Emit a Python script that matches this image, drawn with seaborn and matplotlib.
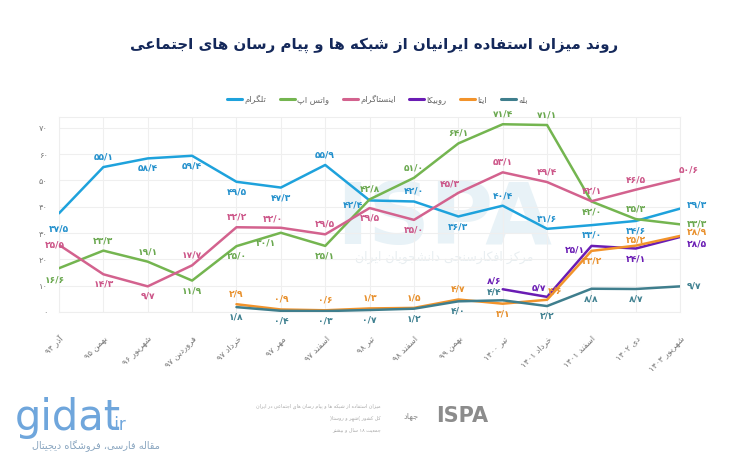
import re
import matplotlib
matplotlib.use('Agg')
from matplotlib import pyplot as plt
from matplotlib.lines import Line2D
import seaborn as sns
import pandas as pd
import numpy as np

# ---- data ----
dates = ['آذر 94', 'بهمن 95', 'شهریور 96', 'فروردین 97', 'خرداد 97', 'مهر 97', 'اسفند 97', 'تیر 98',
         'اسفند 98', 'بهمن 99', 'تیر 1400', 'خرداد 1401', 'اسفند 1401', 'دی 1402', 'شهریور 1403']
telegram = [37.5, 55.1, 58.4, 59.4, 49.5, 47.3, 55.9, 42.4, 42.0, 36.3, 40.4, 31.6, 33.0, 34.6, 39.3]
whatsapp = [16.6, 23.3, 19.1, 11.9, 25.0, 30.1, 25.1, 42.8, 51.0, 64.1, 71.4, 71.1, 42.0, 35.3, 33.3]
instagram = [25.5, 14.3, 9.7, 17.7, 32.2, 32.0, 29.5, 39.5, 35.0, 45.3, 53.1, 49.4, 42.1, 46.5, 50.6]
rubika = [None] * 10 + [8.6, 5.7, 25.1, 24.1, 28.5]
eitaa = [None] * 4 + [2.9, 0.9, 0.6, 1.3, 1.5, 4.7, 3.1, 4.6, 23.2, 25.2, 28.9]
bale = [None] * 4 + [1.8, 0.4, 0.3, 0.7, 1.2, 4.0, 4.4, 2.2, 8.8, 8.7, 9.7]
names = ['تلگرام', 'واتس اپ', 'اینستاگرام', 'روبیکا', 'ایتا', 'بله']
title = 'روند میزان استفاده ایرانیان از شبکه ها و پیام رسان های اجتماعی'

# ---- style ----
colors = ['#1ea2dc', '#74b550', '#d3628e', '#6a1cb4', '#f2932b', '#3f7e8d']
text_colors = ['#2390cc', '#6aa84f', '#cc5588', '#6a1cb4', '#e8902c', '#3f8090']
# label side per point: a=above b=below l=left r=right, al/ar/bl = diagonal
label_pos = [
    ['b2', 'a', 'b', 'b', 'b', 'b', 'a', 'l', 'a', 'b', 'a', 'a', 'b', 'b', 'ru'],
    ['bl', 'a', 'a', 'b', 'b', 'bl3', 'b', 'a', 'a', 'a', 'a', 'a', 'b', 'a', 'r'],
    ['c', 'b', 'b', 'a', 'a', 'al', 'a', 'b', 'b', 'al', 'a', 'a', 'a', 'a', 'ar'],
    [None] * 10 + ['al', 'al', 'l', 'b', 'rd'],
    [None] * 4 + ['a', 'a', 'a', 'a', 'a', 'a', 'b', 'ar', 'b', 'a1', 'ru'],
    [None] * 4 + ['b', 'b', 'b', 'b', 'b', 'b', 'al', 'b', 'b', 'b', 'r'],
]

# ---- simple persian shaping (matplotlib has no RTL layout) ----
_dual = {'ب': 0xFE8F, 'ت': 0xFE95, 'ث': 0xFE99, 'ج': 0xFE9D, 'ح': 0xFEA1, 'خ': 0xFEA5, 'س': 0xFEB1,
         'ش': 0xFEB5, 'ص': 0xFEB9, 'ض': 0xFEBD, 'ط': 0xFEC1, 'ظ': 0xFEC5, 'ع': 0xFEC9, 'غ': 0xFECD,
         'ف': 0xFED1, 'ق': 0xFED5, 'ل': 0xFEDD, 'م': 0xFEE1, 'ن': 0xFEE5, 'ه': 0xFEE9, 'ي': 0xFEF1,
         'پ': 0xFB56, 'چ': 0xFB7A, 'ک': 0xFB8E, 'گ': 0xFB92, 'ی': 0xFBFC}
_right = {'ا': 0xFE8D, 'آ': 0xFE81, 'د': 0xFEA9, 'ذ': 0xFEAB, 'ر': 0xFEAD, 'ز': 0xFEAF, 'و': 0xFEED,
          'ژ': 0xFB8A}
FA_DIGITS = str.maketrans('0123456789.', '۰۱۲۳۴۵۶۷۸۹/')


def fa(s):
    s = s.translate(FA_DIGITS)
    out = []
    for i, ch in enumerate(s):
        if ch not in _dual and ch not in _right:
            out.append(ch)
            continue
        prev = s[i - 1] if i > 0 else ''
        nxt = s[i + 1] if i + 1 < len(s) else ''
        p = prev in _dual
        n = ch in _dual and (nxt in _dual or nxt in _right)
        base = _dual.get(ch, _right.get(ch))
        k = 3 if (p and n) else 2 if n else 1 if p else 0
        out.append(chr(base + k))
    vis = ''.join(out)[::-1]
    return re.sub(r'[۰-۹/]+', lambda m: m.group()[::-1], vis)


sns.set_theme(style='white')
plt.rcParams['font.family'] = ['DejaVu Sans']

fig = plt.figure(figsize=(7.4, 4.62), dpi=100)
ax = fig.add_axes([0.0797, 0.325, 0.8395, 0.422])

x = np.arange(len(dates))
series = [telegram, whatsapp, instagram, rubika, eitaa, bale]
df = pd.DataFrame({'x': np.tile(x, 6),
                   'value': np.concatenate([np.array(s, dtype=float) for s in series]),
                   'app': np.repeat(names, len(dates))})

# faint watermark
ax.text(0.62, 0.47, 'ISPA', transform=ax.transAxes, fontsize=62, fontweight='bold',
        color='#e8f2f7', ha='center', va='center', zorder=0)
ax.text(0.62, 0.28, fa('مرکز افکارسنجی دانشجویان ایران'), transform=ax.transAxes, fontsize=9,
        color='#e8eef1', ha='center', va='center', zorder=0)

for k in [5, 4, 3, 2, 1, 0]:
    d = df[df['app'] == names[k]].dropna()
    sns.lineplot(data=d, x='x', y='value', ax=ax, color=colors[k], linewidth=1.8, zorder=3 + k,
                 legend=False)

offs = {'a': (0, 4, 'center', 'bottom'), 'a1': (0, 1, 'center', 'bottom'),
        'b': (0, -4, 'center', 'top'), 'b2': (0, -8, 'center', 'top'),
        'c': (-3, 0, 'center', 'center'),
        'l': (-5, -3, 'right', 'center'), 'r': (5, 0, 'left', 'center'),
        'ru': (5, 2.5, 'left', 'center'), 'rd': (5, -5, 'left', 'center'),
        'al': (-6, 3, 'center', 'bottom'),
        'bl': (-3, -5, 'center', 'top'), 'bl3': (-11, -4, 'center', 'top'),
        'ar': (6, 3, 'center', 'bottom')}
for k, s in enumerate(series):
    for i, v in enumerate(s):
        if v is None:
            continue
        dx, dy, ha, va = offs[label_pos[k][i]]
        ax.annotate(fa(f'{v:.1f}'), (x[i], v), xytext=(dx, dy), textcoords='offset points',
                    ha=ha, va=va, fontsize=6.6, fontweight='bold', color=text_colors[k], zorder=10)

ax.set_xlim(0, len(dates) - 1)
ax.set_ylim(0, 74.2)
ax.set_yticks(range(0, 71, 10))
ax.set_yticklabels([fa(str(t)) for t in range(0, 71, 10)], fontsize=6, color='#777777')
ax.set_xticks(x)
ax.set_xticklabels([fa(d) for d in dates], rotation=45, ha='right', rotation_mode='anchor',
                   fontsize=6, color='#777777')
ax.tick_params(axis='x', pad=16, length=0)
ax.tick_params(axis='y', pad=8, length=0)
ax.set_xlabel('')
ax.set_ylabel('')
ax.grid(True, color='#efefef', linewidth=0.8)
for sp in ax.spines.values():
    sp.set_color('#eeeeee')
    sp.set_linewidth(0.8)

# legend
handles = [Line2D([], [], color=colors[k], linewidth=2.2) for k in range(6)]
fig.legend(handles, [fa(n) for n in names], ncol=6, loc='center', bbox_to_anchor=(0.51, 0.785),
           frameon=False, fontsize=6, labelcolor='#666666', handlelength=1.8, handletextpad=0.3,
           columnspacing=1.6)

fig.text(0.505, 0.902, fa(title), ha='center', va='center', fontsize=10.8, fontweight='bold',
         color='#14285a')

# footer marks
fig.text(0.02, 0.095, 'gidat', fontsize=30, color='#6fa6dc', ha='left', va='center')
fig.text(0.148, 0.08, '.ir', fontsize=12, color='#6fa6dc', ha='left', va='center')
fig.text(0.13, 0.035, fa('مقاله فارسی، فروشگاه دیجیتال'), fontsize=7, color='#8aa6c0',
         ha='center', va='center')
fig.text(0.59, 0.1, 'ISPA', fontsize=15, fontweight='bold', color='#8c8c8c', ha='left', va='center')
fig.text(0.555, 0.1, fa('جهاد'), fontsize=6, color='#8c8c8c', ha='center', va='center')
fig.text(0.515, 0.12, fa('میزان استفاده از شبکه ها و پیام رسان های اجتماعی در ایران'), fontsize=3.5,
         color='#aaaaaa', ha='right', va='center')
fig.text(0.515, 0.095, fa('کل کشور (شهر و روستا)'), fontsize=3.5, color='#aaaaaa', ha='right', va='center')
fig.text(0.515, 0.07, fa('جمعیت 18 سال و بیشتر'), fontsize=3.5, color='#aaaaaa', ha='right', va='center')

fig.savefig('out.png', dpi=100, facecolor='white')
